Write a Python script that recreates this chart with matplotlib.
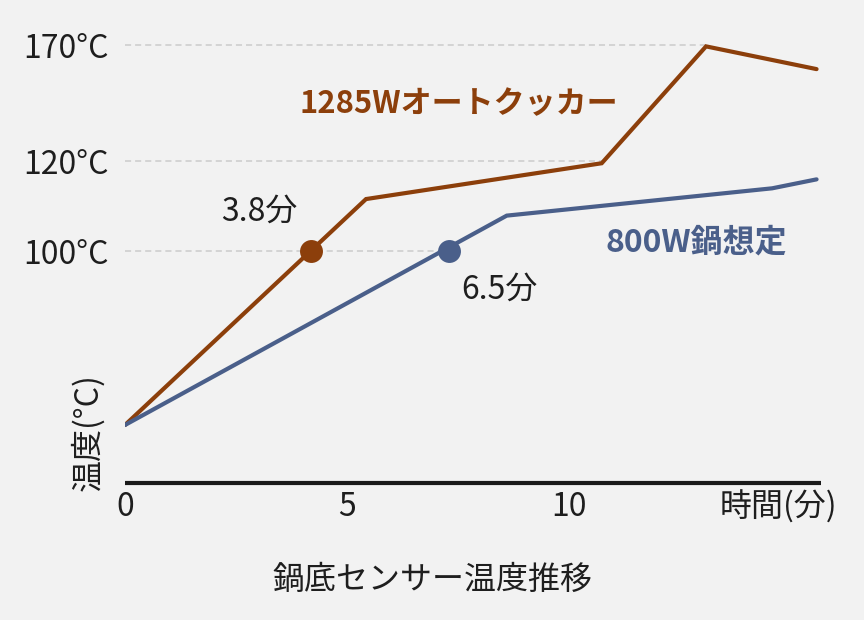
import numpy as np
import matplotlib
matplotlib.use("Agg")
import matplotlib.pyplot as plt

plt.rcParams['font.family'] = ['Noto Sans CJK JP', 'DejaVu Sans']

# ---- data ----
brown_x = [0, 5.43, 10.74, 13.09, 15.58]
brown_y = [25, 111.6, 119.6, 169.6, 159.8]
blue_x = [0, 8.60, 14.58, 15.58]
blue_y = [25, 107.9, 114.0, 116.0]
brown_dot = (4.18, 100)
blue_dot = (7.30, 100)
brown_dot_label = "3.8分"
blue_dot_label = "6.5分"
y_ticks = [100, 120, 170]
y_tick_labels = ["100°C", "120°C", "170°C"]
x_ticks = [0, 5, 10]
x_tick_labels = ["0", "5", "10"]
series_labels = ["1285Wオートクッカー", "800W鍋想定"]

BROWN = "#8c3f0b"
BLUE = "#4a5f8a"
BG = "#f2f2f2"
TXT = "#1e1e1e"

# piecewise scale (100-120 stretched)
T_K = [-1000, 0, 100, 120, 1000]
P_K = [-1000, 0, 100, 138.6, 1018.6]
def fwd(t):
    return np.interp(t, T_K, P_K)
def inv(p):
    return np.interp(p, P_K, T_K)

W, H = 864, 620
fig = plt.figure(figsize=(W / 100, H / 100), dpi=100, facecolor=BG)
ax = fig.add_axes([125 / W, (H - 483) / H, 696 / W, 463 / H], facecolor=BG)
ax.set_yscale('function', functions=(fwd, inv))
ax.set_xlim(0, 15.68)
ax.set_ylim(0, inv(463 / 2.32))

# dashed guide lines up to where the curves reach them
grid_end = [blue_dot[0], brown_x[2], brown_x[3]]
for yv, xe in zip(y_ticks, grid_end):
    ax.plot([0, xe], [yv, yv], color="#cccccc", lw=1.1, dashes=(4, 2.6), zorder=1,
            solid_capstyle='butt')

ax.plot(brown_x, brown_y, color=BROWN, lw=3, solid_joinstyle='miter',
        solid_capstyle='round', zorder=3)
ax.plot(blue_x, blue_y, color=BLUE, lw=3, solid_joinstyle='miter',
        solid_capstyle='round', zorder=3)
ax.plot([brown_dot[0]], [brown_dot[1]], 'o', color=BROWN, ms=16.5, mew=0, zorder=4)
ax.plot([blue_dot[0]], [blue_dot[1]], 'o', color=BLUE, ms=16.5, mew=0, zorder=4)

FS = 23
ax.annotate(brown_dot_label, brown_dot, xytext=(-37, 28), textcoords='offset points',
            ha='center', va='center', fontsize=FS, color=TXT)
ax.annotate(blue_dot_label, blue_dot, xytext=(36, -28), textcoords='offset points',
            ha='center', va='center', fontsize=FS, color=TXT)

ax.text(7.51, 144.8, series_labels[0], ha='center', va='center', fontsize=22.3,
        fontweight='bold', color=BROWN)
ax.text(12.88, 102.0, series_labels[1], ha='center', va='center', fontsize=23,
        fontweight='bold', color=BLUE)

# axes styling
for s in ['top', 'right', 'left']:
    ax.spines[s].set_visible(False)
ax.spines['bottom'].set_color("#1a1a1a")
ax.spines['bottom'].set_linewidth(3)
ax.spines['bottom'].set_capstyle('butt')

ax.set_yticks(y_ticks)
ax.set_yticklabels(y_tick_labels)
ax.set_xticks(x_ticks)
ax.set_xticklabels(x_tick_labels)
ax.yaxis.set_minor_locator(matplotlib.ticker.NullLocator())
ax.tick_params(axis='y', length=0, pad=12, labelsize=FS, labelcolor=TXT)
ax.tick_params(axis='x', length=0, pad=6, labelsize=FS, labelcolor=TXT)

fig.text(778 / W, 1 - 507 / H, "時間(分)", ha='center', va='center', fontsize=FS, color=TXT)
fig.text(88 / W, 1 - 432 / H, "温度(°C)", ha='center', va='center', fontsize=FS,
         color=TXT, rotation=90)
fig.text(432 / W, 1 - 580 / H, "鍋底センサー温度推移", ha='center', va='center',
         fontsize=FS, color=TXT)

fig.savefig("out.png", dpi=100, facecolor=BG)
